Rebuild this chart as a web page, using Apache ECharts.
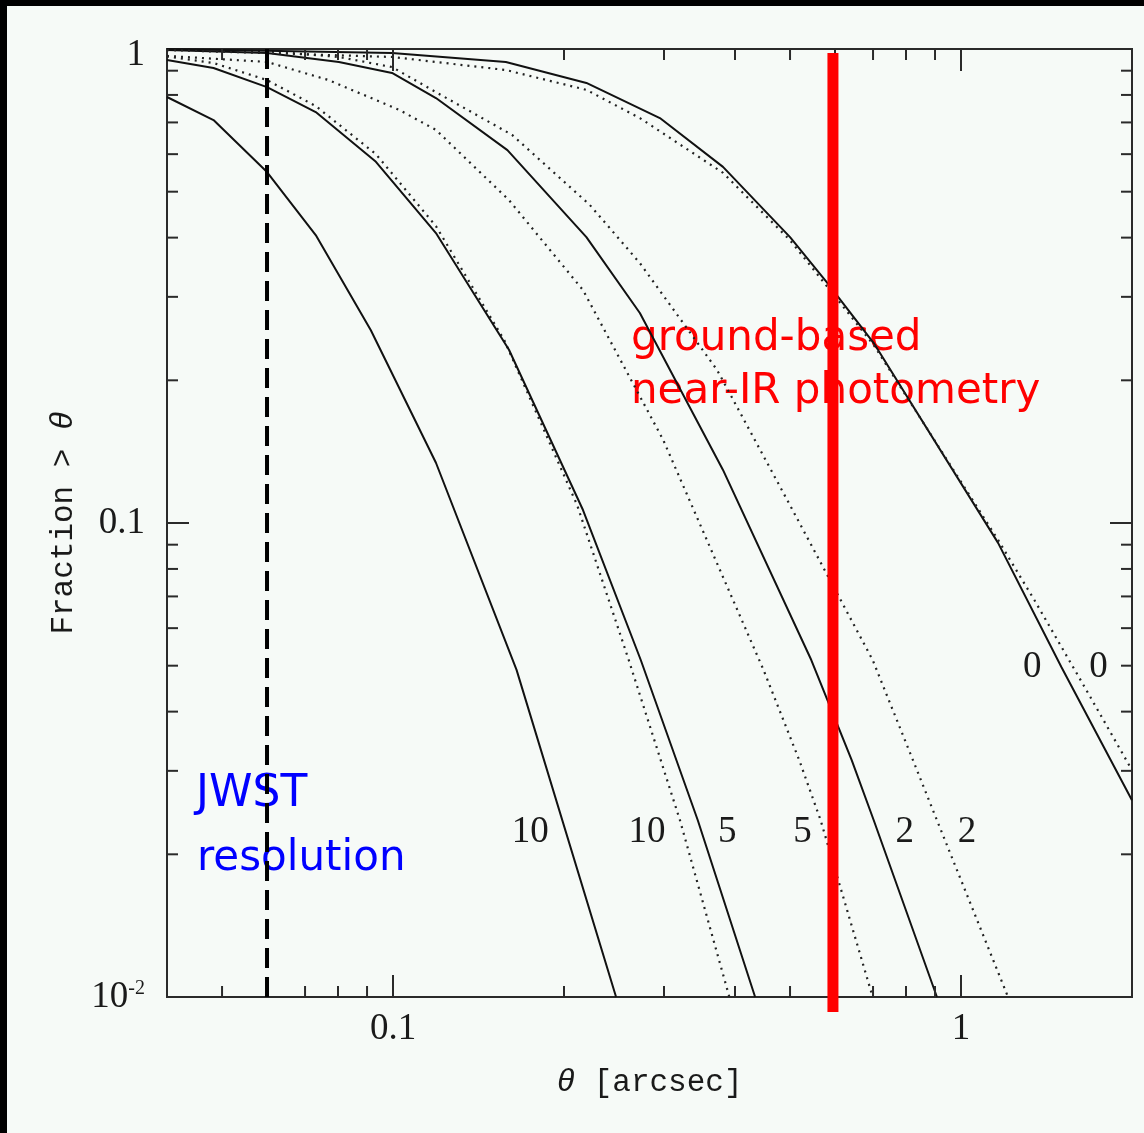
<!DOCTYPE html>
<html>
<head>
<meta charset="utf-8">
<script src="https://cdn.jsdelivr.net/npm/echarts@6/dist/echarts.min.js"></script>
<style>
  html, body { margin: 0; padding: 0; background: #000; }
  #chart { position: absolute; left: 7px; top: 6px; width: 1137px; height: 1127px; background: #f6faf7; }
</style>
</head>
<body>
<div id="chart"></div>
<script>
// axis ranges
const xMin = 0.04, xMax = 2;
const yMin = 0.01, yMax = 1;

// tick positions
const xMajorTicks = [0.1, 1];
const xMinorTicks = [0.05, 0.06, 0.07, 0.08, 0.09, 0.2, 0.3, 0.4, 0.5, 0.6, 0.7, 0.8, 0.9];
const yMajorTicks = [0.1];
const yMinorTicks = [0.02, 0.03, 0.04, 0.05, 0.06, 0.07, 0.08, 0.09, 0.2, 0.3, 0.4, 0.5, 0.6, 0.7, 0.8, 0.9];

// curves: theta [arcsec] vs fraction > theta (solid and dotted families)
const solid10Theta = [0.04, 0.0483, 0.06, 0.0731, 0.0914, 0.119, 0.165, 0.247];
const solid10Frac  = [0.792, 0.708, 0.55, 0.405, 0.255, 0.134, 0.049, 0.01];

const dotted10Theta = [0.04, 0.0483, 0.06, 0.0731, 0.0933, 0.119, 0.157, 0.211, 0.26, 0.32, 0.391];
const dotted10Frac  = [0.965, 0.934, 0.86, 0.758, 0.6, 0.423, 0.243, 0.109, 0.0514, 0.0236, 0.01];

const solid5Theta = [0.04, 0.0483, 0.06, 0.0731, 0.0933, 0.119, 0.16, 0.216, 0.273, 0.344, 0.434];
const solid5Frac  = [0.948, 0.912, 0.831, 0.736, 0.578, 0.409, 0.232, 0.1065, 0.0514, 0.0236, 0.01];

const dotted5Theta = [0.04, 0.06, 0.077, 0.1025, 0.119, 0.16, 0.216, 0.256, 0.299, 0.449, 0.519, 0.566, 0.699];
const dotted5Frac  = [0.967, 0.939, 0.86, 0.744, 0.675, 0.48, 0.31, 0.212, 0.1497, 0.049, 0.0316, 0.0236, 0.01];

const solid2Theta = [0.04, 0.06, 0.0803, 0.0996, 0.119, 0.159, 0.219, 0.272, 0.381, 0.545, 0.642, 0.702, 0.907];
const solid2Frac  = [0.995, 0.981, 0.939, 0.89, 0.788, 0.612, 0.401, 0.2773, 0.1294, 0.0514, 0.0316, 0.0236, 0.01];

const dotted2Theta = [0.04, 0.06, 0.0803, 0.0996, 0.119, 0.162, 0.222, 0.272, 0.372, 0.5, 0.699, 0.823, 0.907, 1.21];
const dotted2Frac  = [1.0, 0.99, 0.962, 0.916, 0.811, 0.659, 0.469, 0.3535, 0.2103, 0.109, 0.0514, 0.0316, 0.0236, 0.01];

const solid0Theta = [0.04, 0.0996, 0.158, 0.219, 0.295, 0.381, 0.5, 0.582, 0.702, 1.162, 1.502, 2.0];
const solid0Frac  = [1.0, 0.981, 0.939, 0.848, 0.715, 0.564, 0.401, 0.3208, 0.2397, 0.0908, 0.0497, 0.026];

const dotted0Theta = [0.04, 0.0996, 0.158, 0.219, 0.272, 0.381, 0.5, 0.582, 0.702, 1.162, 1.346, 1.65, 2.0];
const dotted0Frac  = [0.995, 0.962, 0.903, 0.82, 0.715, 0.548, 0.395, 0.3147, 0.2374, 0.0921, 0.0688, 0.0451, 0.0301];

// curve labels
const labelText  = ['10', '10', '5', '5', '2', '2', '0', '0'];
const labelTheta = [0.1745, 0.28, 0.3876, 0.5257, 0.796, 1.025, 1.335, 1.746];
const labelFrac  = [0.0223, 0.0223, 0.0223, 0.0223, 0.0223, 0.0223, 0.0497, 0.0497];

// reference lines
const jwstTheta = 0.06;
const groundTheta = 0.595;
const groundFrac = [0.981, 0.0093];

const numFont = 'Liberation Serif';
const ink = '#1a1a1a';

function curve(thetas, fracs, dotted) {
  return {
    type: 'line',
    data: thetas.map((t, i) => [t, fracs[i]]),
    symbol: 'none',
    silent: true,
    z: 3,
    lineStyle: dotted
      ? { color: '#222', width: 2.2, type: [2, 5] }
      : { color: '#111', width: 2 }
  };
}

function tickSeries(values, onX, len) {
  return {
    type: 'custom',
    silent: true,
    z: 4,
    data: values.map(v => (onX ? [v, yMax] : [xMin, v])),
    renderItem: function (params, api) {
      const style = { stroke: '#2a2a2a', lineWidth: 2 };
      if (onX) {
        const v = api.value(0);
        const a = api.coord([v, yMin]);
        const b = api.coord([v, yMax]);
        return {
          type: 'group',
          children: [
            { type: 'line', shape: { x1: a[0], y1: a[1], x2: a[0], y2: a[1] - len }, style: style },
            { type: 'line', shape: { x1: b[0], y1: b[1], x2: b[0], y2: b[1] + len }, style: style }
          ]
        };
      }
      const v = api.value(1);
      const a = api.coord([xMin, v]);
      const b = api.coord([xMax, v]);
      return {
        type: 'group',
        children: [
          { type: 'line', shape: { x1: a[0], y1: a[1], x2: a[0] + len, y2: a[1] }, style: style },
          { type: 'line', shape: { x1: b[0], y1: b[1], x2: b[0] - len, y2: b[1] }, style: style }
        ]
      };
    }
  };
}

function isDecade(v) {
  const l = Math.log10(v);
  return Math.abs(l - Math.round(l)) < 1e-6;
}

const chart = echarts.init(document.getElementById('chart'));

const option = {
  animation: false,
  grid: {
    left: 160,
    top: 43,
    right: 12,
    bottom: 136,
    show: true,
    borderColor: '#2a2a2a',
    borderWidth: 2,
    backgroundColor: 'transparent'
  },
  xAxis: {
    type: 'log',
    logBase: 10,
    min: xMin,
    max: xMax,
    axisLine: { show: false },
    axisTick: { show: false },
    splitLine: { show: false },
    axisLabel: {
      margin: 14,
      fontFamily: numFont,
      fontSize: 37,
      color: ink,
      formatter: function (v) {
        if (!isDecade(v)) return '';
        return Math.round(Math.log10(v)) === 0 ? '1' : '0.1';
      }
    },
    name: '{i|θ} [arcsec]',
    nameLocation: 'middle',
    nameGap: 70,
    nameTextStyle: {
      fontFamily: 'Liberation Mono',
      fontSize: 31,
      color: ink,
      rich: { i: { fontFamily: 'Liberation Mono', fontSize: 31, fontStyle: 'italic', color: ink } }
    }
  },
  yAxis: {
    type: 'log',
    logBase: 10,
    min: yMin,
    max: yMax,
    axisLine: { show: false },
    axisTick: { show: false },
    splitLine: { show: false },
    axisLabel: {
      margin: 22,
      fontFamily: numFont,
      fontSize: 37,
      color: ink,
      formatter: function (v) {
        if (!isDecade(v)) return '';
        const e = Math.round(Math.log10(v));
        if (e === 0) return '{t|1}';
        if (e === -1) return '0.1';
        return '{b|10}{s|' + e + '}';
      },
      rich: {
        t: { fontFamily: numFont, fontSize: 37, color: ink, padding: [12, 0, 0, 0] },
        b: { fontFamily: numFont, fontSize: 37, color: ink },
        s: { fontFamily: numFont, fontSize: 20, color: ink, verticalAlign: 'top' }
      }
    },
    name: 'Fraction > {i|θ}',
    nameLocation: 'middle',
    nameGap: 88,
    nameTextStyle: {
      fontFamily: 'Liberation Mono',
      fontSize: 31,
      color: ink,
      rich: { i: { fontFamily: 'Liberation Mono', fontSize: 31, fontStyle: 'italic', color: ink } }
    }
  },
  graphic: [
    { type: 'text', x: 624, y: 333, z: 1, style: { text: 'ground-based', font: '42px "DejaVu Sans"', fill: '#ff0000', verticalAlign: 'middle' } },
    { type: 'text', x: 624, y: 386, z: 1, style: { text: 'near-IR photometry', font: '42px "DejaVu Sans"', fill: '#ff0000', verticalAlign: 'middle' } },
    { type: 'text', x: 189, y: 789, z: 1, style: { text: 'JWST', font: '44px "DejaVu Sans"', fill: '#0000ff', verticalAlign: 'middle' } },
    { type: 'text', x: 190, y: 853, z: 1, style: { text: 'resolution', font: '42px "DejaVu Sans"', fill: '#0000ff', verticalAlign: 'middle' } }
  ],
  series: [
    curve(solid10Theta, solid10Frac, false),
    curve(dotted10Theta, dotted10Frac, true),
    curve(solid5Theta, solid5Frac, false),
    curve(dotted5Theta, dotted5Frac, true),
    curve(solid2Theta, solid2Frac, false),
    curve(dotted2Theta, dotted2Frac, true),
    curve(solid0Theta, solid0Frac, false),
    curve(dotted0Theta, dotted0Frac, true),
    tickSeries(xMinorTicks, true, 11),
    tickSeries(xMajorTicks, true, 22),
    tickSeries(yMinorTicks, false, 11),
    tickSeries(yMajorTicks, false, 22),
    {
      type: 'scatter',
      symbolSize: 0,
      silent: true,
      z: 5,
      itemStyle: { opacity: 1 },
      data: labelTheta.map((t, i) => [t, labelFrac[i]]),
      label: {
        show: true,
        position: 'inside',
        fontFamily: numFont,
        fontSize: 37,
        color: ink,
        opacity: 1,
        formatter: p => labelText[p.dataIndex]
      }
    },
    {
      type: 'line',
      data: [[jwstTheta, yMin], [jwstTheta, yMax]],
      symbol: 'none',
      silent: true,
      z: 6,
      lineStyle: { color: '#000', width: 4, type: [20, 9] }
    },
    {
      type: 'line',
      data: [[groundTheta, groundFrac[0]], [groundTheta, groundFrac[1]]],
      symbol: 'none',
      silent: true,
      clip: false,
      z: 7,
      lineStyle: { color: '#ff0000', width: 11, cap: 'butt' }
    }
  ]
};

chart.setOption(option);
window.addEventListener('resize', () => chart.resize());
</script>
</body>
</html>
